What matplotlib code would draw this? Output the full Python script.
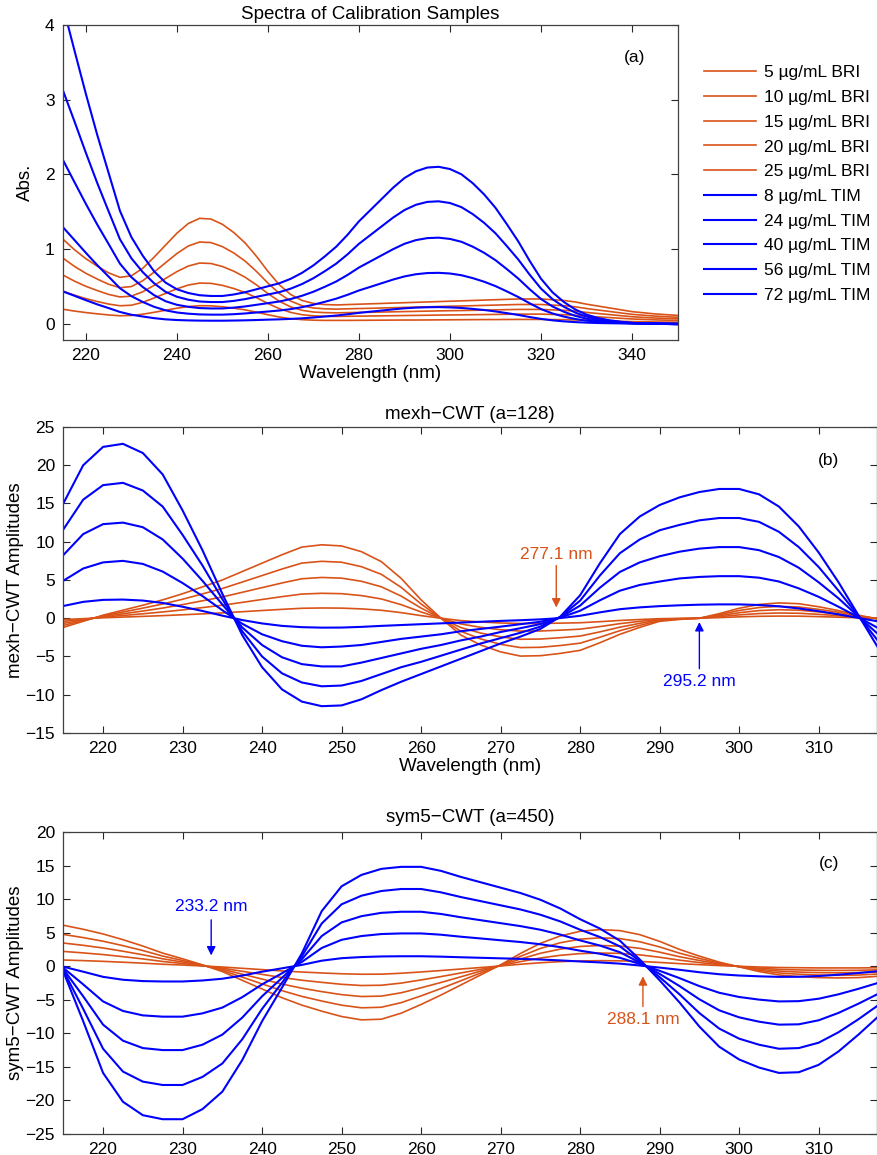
import matplotlib
matplotlib.use("Agg")
import matplotlib.pyplot as plt
import numpy as np

plt.rcParams["font.family"] = ["Liberation Sans", "DejaVu Sans"]
plt.rcParams["font.size"] = 12.5

RED = "#D95319"
BLUE = "#0000FF"

bri_labels = ["5 µg/mL BRI", "10 µg/mL BRI", "15 µg/mL BRI", "20 µg/mL BRI", "25 µg/mL BRI"]
tim_labels = ["8 µg/mL TIM", "24 µg/mL TIM", "40 µg/mL TIM", "56 µg/mL TIM", "72 µg/mL TIM"]

# panel (a): absorbance spectra, read every 2.5 nm from 215 to 350 nm
wl_a = np.arange(215, 350.1, 2.5)

bri_a = [
    [0.192, 0.168, 0.148, 0.131, 0.116, 0.105, 0.109, 0.126, 0.151, 0.179, 0.206, 0.228, 0.24, 0.238,
     0.226, 0.207, 0.184, 0.153, 0.119, 0.088, 0.066, 0.053, 0.046, 0.043, 0.043, 0.043, 0.044, 0.045,
     0.046, 0.047, 0.048, 0.048, 0.049, 0.05, 0.051, 0.052, 0.053, 0.054, 0.054, 0.055, 0.056, 0.056,
     0.056, 0.054, 0.053, 0.049, 0.044, 0.04, 0.036, 0.031, 0.027, 0.025, 0.022, 0.02, 0.019],
    [0.435, 0.381, 0.335, 0.296, 0.262, 0.239, 0.246, 0.285, 0.343, 0.404, 0.466, 0.516, 0.543, 0.539,
     0.512, 0.47, 0.416, 0.347, 0.27, 0.2, 0.15, 0.119, 0.104, 0.098, 0.096, 0.098, 0.1, 0.102,
     0.104, 0.106, 0.108, 0.11, 0.112, 0.114, 0.116, 0.117, 0.119, 0.121, 0.123, 0.125, 0.127, 0.127,
     0.127, 0.123, 0.119, 0.112, 0.1, 0.09, 0.081, 0.071, 0.062, 0.056, 0.05, 0.046, 0.042],
    [0.65, 0.569, 0.5, 0.443, 0.391, 0.357, 0.368, 0.426, 0.512, 0.604, 0.696, 0.771, 0.811, 0.805,
     0.765, 0.702, 0.621, 0.518, 0.403, 0.299, 0.224, 0.178, 0.155, 0.147, 0.144, 0.147, 0.15, 0.152,
     0.155, 0.158, 0.161, 0.164, 0.167, 0.17, 0.173, 0.175, 0.178, 0.181, 0.184, 0.187, 0.19, 0.19,
     0.19, 0.184, 0.178, 0.167, 0.15, 0.135, 0.121, 0.106, 0.092, 0.083, 0.075, 0.069, 0.063],
    [0.876, 0.767, 0.674, 0.597, 0.527, 0.481, 0.496, 0.574, 0.69, 0.814, 0.938, 1.039, 1.093, 1.085,
     1.031, 0.946, 0.837, 0.698, 0.543, 0.403, 0.302, 0.24, 0.209, 0.198, 0.194, 0.198, 0.202, 0.205,
     0.209, 0.213, 0.217, 0.221, 0.225, 0.229, 0.233, 0.236, 0.24, 0.244, 0.248, 0.252, 0.256, 0.256,
     0.256, 0.248, 0.24, 0.225, 0.202, 0.182, 0.163, 0.143, 0.124, 0.112, 0.101, 0.093, 0.085],
    [1.13, 0.99, 0.87, 0.77, 0.68, 0.62, 0.64, 0.74, 0.89, 1.05, 1.21, 1.34, 1.41, 1.40,
     1.33, 1.22, 1.08, 0.90, 0.70, 0.52, 0.39, 0.31, 0.27, 0.255, 0.25, 0.255, 0.26, 0.265,
     0.27, 0.275, 0.28, 0.285, 0.29, 0.295, 0.30, 0.305, 0.31, 0.315, 0.32, 0.325, 0.33, 0.33,
     0.33, 0.32, 0.31, 0.29, 0.26, 0.235, 0.21, 0.185, 0.16, 0.145, 0.13, 0.12, 0.11],
]

tim_a = [
    [0.43, 0.373, 0.314, 0.258, 0.208, 0.156, 0.119, 0.095, 0.073, 0.057, 0.048, 0.043, 0.04, 0.039,
     0.039, 0.041, 0.044, 0.048, 0.053, 0.057, 0.063, 0.071, 0.082, 0.095, 0.108, 0.125, 0.144, 0.16,
     0.175, 0.191, 0.205, 0.214, 0.219, 0.221, 0.217, 0.21, 0.197, 0.182, 0.163, 0.14, 0.116, 0.088,
     0.063, 0.044, 0.03, 0.02, 0.013, 0.008, 0.005, 0.003, 0.001, 0.0, 0.0, 0.0, 0.0],
    [1.29, 1.12, 0.949, 0.784, 0.63, 0.474, 0.368, 0.29, 0.225, 0.178, 0.149, 0.133, 0.123, 0.12,
     0.12, 0.126, 0.136, 0.149, 0.162, 0.175, 0.194, 0.22, 0.253, 0.292, 0.334, 0.386, 0.444, 0.492,
     0.541, 0.59, 0.632, 0.661, 0.677, 0.68, 0.671, 0.648, 0.609, 0.561, 0.502, 0.431, 0.356, 0.272,
     0.194, 0.136, 0.094, 0.062, 0.039, 0.024, 0.015, 0.008, 0.003, 0.0, 0.0, 0.0, -0.003],
    [2.19, 1.896, 1.605, 1.328, 1.067, 0.803, 0.622, 0.491, 0.381, 0.30, 0.252, 0.225, 0.208, 0.203,
     0.203, 0.214, 0.23, 0.252, 0.274, 0.296, 0.329, 0.373, 0.427, 0.493, 0.564, 0.652, 0.751, 0.833,
     0.915, 0.997, 1.069, 1.118, 1.145, 1.151, 1.134, 1.096, 1.03, 0.948, 0.849, 0.729, 0.603, 0.46,
     0.329, 0.23, 0.159, 0.104, 0.066, 0.041, 0.025, 0.014, 0.005, 0.0, 0.0, -0.003, -0.005],
    [3.12, 2.71, 2.29, 1.885, 1.505, 1.13, 0.876, 0.69, 0.54, 0.426, 0.36, 0.32, 0.296, 0.289,
     0.289, 0.304, 0.328, 0.359, 0.39, 0.421, 0.468, 0.53, 0.608, 0.702, 0.803, 0.928, 1.069, 1.186,
     1.303, 1.42, 1.521, 1.591, 1.63, 1.638, 1.615, 1.56, 1.466, 1.349, 1.209, 1.037, 0.858, 0.655,
     0.468, 0.328, 0.226, 0.148, 0.094, 0.059, 0.035, 0.02, 0.008, 0.0, 0.0, -0.004, -0.008],
    [4.25, 3.66, 3.08, 2.53, 2.02, 1.51, 1.16, 0.91, 0.70, 0.55, 0.46, 0.41, 0.38, 0.37,
     0.37, 0.39, 0.42, 0.46, 0.50, 0.54, 0.60, 0.68, 0.78, 0.90, 1.03, 1.19, 1.37, 1.52,
     1.67, 1.82, 1.95, 2.04, 2.09, 2.10, 2.07, 2.00, 1.88, 1.73, 1.55, 1.33, 1.10, 0.84,
     0.60, 0.42, 0.29, 0.19, 0.12, 0.075, 0.045, 0.025, 0.01, 0.0, 0.0, -0.005, -0.01],
]

# panels (b) and (c): CWT amplitudes, read every 2.5 nm from 215 to 317.5 nm
wl_cwt = np.arange(215, 317.6, 2.5)

bri_b = [
    [-0.17, -0.06, 0.06, 0.15, 0.24, 0.34, 0.45, 0.57, 0.7, 0.85, 1.01, 1.16, 1.3, 1.34,
     1.32, 1.22, 1.04, 0.73, 0.34, 0.0, -0.31, -0.49, -0.62, -0.69, -0.69, -0.64, -0.59, -0.45,
     -0.29, -0.17, -0.06, -0.02, 0.0, 0.08, 0.18, 0.25, 0.28, 0.27, 0.21, 0.14, 0.06, -0.01],
    [-0.41, -0.14, 0.14, 0.36, 0.58, 0.82, 1.09, 1.39, 1.7, 2.07, 2.45, 2.82, 3.16, 3.26,
     3.21, 2.96, 2.52, 1.77, 0.82, 0.0, -0.75, -1.19, -1.5, -1.68, -1.67, -1.56, -1.43, -1.09,
     -0.71, -0.41, -0.14, -0.05, 0.0, 0.2, 0.44, 0.61, 0.68, 0.65, 0.51, 0.34, 0.14, -0.03],
    [-0.67, -0.22, 0.22, 0.58, 0.94, 1.33, 1.78, 2.28, 2.78, 3.39, 4.0, 4.61, 5.16, 5.33,
     5.24, 4.83, 4.11, 2.89, 1.33, 0.0, -1.22, -1.94, -2.44, -2.75, -2.72, -2.55, -2.33, -1.78,
     -1.17, -0.67, -0.22, -0.08, 0.0, 0.33, 0.72, 1.0, 1.11, 1.05, 0.83, 0.56, 0.22, -0.06],
    [-0.93, -0.31, 0.31, 0.81, 1.32, 1.86, 2.48, 3.18, 3.88, 4.73, 5.58, 6.43, 7.21, 7.44,
     7.32, 6.74, 5.74, 4.03, 1.86, 0.0, -1.71, -2.71, -3.41, -3.84, -3.8, -3.57, -3.26, -2.48,
     -1.63, -0.93, -0.31, -0.12, 0.0, 0.47, 1.01, 1.4, 1.55, 1.47, 1.16, 0.78, 0.31, -0.08],
    [-1.2, -0.4, 0.4, 1.05, 1.7, 2.4, 3.2, 4.1, 5.0, 6.1, 7.2, 8.3, 9.3, 9.6,
     9.45, 8.7, 7.4, 5.2, 2.4, 0.0, -2.2, -3.5, -4.4, -4.95, -4.9, -4.6, -4.2, -3.2,
     -2.1, -1.2, -0.4, -0.15, 0.0, 0.6, 1.3, 1.8, 2.0, 1.9, 1.5, 1.0, 0.4, -0.1],
]

tim_b = [
    [1.6, 2.14, 2.4, 2.44, 2.31, 2.0, 1.5, 0.95, 0.34, -0.24, -0.68, -1.0, -1.17, -1.23,
     -1.22, -1.13, -1.0, -0.89, -0.78, -0.67, -0.57, -0.46, -0.35, -0.26, -0.15, 0.02, 0.32, 0.77,
     1.18, 1.42, 1.58, 1.69, 1.77, 1.81, 1.81, 1.73, 1.56, 1.28, 0.92, 0.5, 0.04, -0.42],
    [4.9, 6.5, 7.3, 7.5, 7.1, 6.1, 4.6, 2.9, 1.05, -0.72, -2.1, -3.0, -3.6, -3.8,
     -3.7, -3.5, -3.1, -2.7, -2.4, -2.1, -1.7, -1.4, -1.1, -0.78, -0.46, 0.07, 0.98, 2.35,
     3.6, 4.35, 4.8, 5.2, 5.4, 5.5, 5.5, 5.3, 4.8, 3.9, 2.8, 1.5, 0.13, -1.3],
    [8.25, 11.0, 12.3, 12.5, 11.9, 10.3, 7.8, 4.9, 1.8, -1.2, -3.5, -5.1, -6.0, -6.3,
     -6.3, -5.8, -5.2, -4.6, -4.0, -3.5, -2.9, -2.4, -1.8, -1.3, -0.77, 0.11, 1.65, 4.0,
     6.05, 7.3, 8.1, 8.7, 9.1, 9.3, 9.3, 8.9, 8.0, 6.6, 4.7, 2.6, 0.22, -2.1],
    [11.6, 15.5, 17.4, 17.7, 16.7, 14.6, 10.9, 6.9, 2.5, -1.7, -5.0, -7.2, -8.4, -8.9,
     -8.8, -8.2, -7.3, -6.4, -5.7, -4.9, -4.1, -3.3, -2.6, -1.9, -1.1, 0.16, 2.3, 5.6,
     8.5, 10.3, 11.5, 12.2, 12.8, 13.1, 13.1, 12.6, 11.3, 9.3, 6.7, 3.6, 0.3, -3.0],
    [15.0, 20.0, 22.4, 22.8, 21.6, 18.8, 14.1, 8.9, 3.2, -2.2, -6.4, -9.3, -10.9, -11.5,
     -11.4, -10.6, -9.4, -8.3, -7.3, -6.3, -5.3, -4.3, -3.3, -2.4, -1.4, 0.2, 3.0, 7.2,
     11.0, 13.3, 14.8, 15.8, 16.5, 16.9, 16.9, 16.2, 14.6, 12.0, 8.6, 4.7, 0.4, -3.9],
]

bri_c = [
    [0.92, 0.83, 0.72, 0.59, 0.45, 0.29, 0.17, 0.03, -0.12, -0.32, -0.51, -0.71, -0.87, -1.01,
     -1.13, -1.2, -1.19, -1.05, -0.86, -0.65, -0.42, -0.2, 0.03, 0.29, 0.51, 0.68, 0.78, 0.82,
     0.8, 0.71, 0.56, 0.38, 0.23, 0.09, -0.02, -0.12, -0.2, -0.23, -0.26, -0.26, -0.26, -0.23],
    [2.2, 1.98, 1.73, 1.42, 1.08, 0.7, 0.4, 0.07, -0.29, -0.76, -1.22, -1.69, -2.09, -2.41,
     -2.7, -2.88, -2.84, -2.52, -2.05, -1.55, -1.01, -0.47, 0.07, 0.68, 1.22, 1.62, 1.87, 1.96,
     1.91, 1.69, 1.33, 0.9, 0.54, 0.22, -0.04, -0.29, -0.47, -0.56, -0.61, -0.63, -0.61, -0.54],
    [3.45, 3.11, 2.71, 2.23, 1.7, 1.1, 0.62, 0.11, -0.45, -1.19, -1.92, -2.66, -3.28, -3.79,
     -4.24, -4.52, -4.46, -3.96, -3.22, -2.43, -1.58, -0.73, 0.11, 1.07, 1.92, 2.54, 2.94, 3.08,
     2.99, 2.66, 2.09, 1.41, 0.85, 0.34, -0.06, -0.45, -0.73, -0.88, -0.96, -0.99, -0.96, -0.85],
    [4.73, 4.26, 3.72, 3.06, 2.33, 1.51, 0.85, 0.16, -0.62, -1.63, -2.64, -3.64, -4.5, -5.19,
     -5.81, -6.2, -6.12, -5.43, -4.42, -3.33, -2.17, -1.01, 0.16, 1.47, 2.64, 3.49, 4.03, 4.22,
     4.11, 3.64, 2.87, 1.94, 1.16, 0.47, -0.08, -0.62, -1.01, -1.2, -1.32, -1.36, -1.32, -1.16],
    [6.1, 5.5, 4.8, 3.95, 3.0, 1.95, 1.1, 0.2, -0.8, -2.1, -3.4, -4.7, -5.8, -6.7,
     -7.5, -8.0, -7.9, -7.0, -5.7, -4.3, -2.8, -1.3, 0.2, 1.9, 3.4, 4.5, 5.2, 5.45,
     5.3, 4.7, 3.7, 2.5, 1.5, 0.6, -0.1, -0.8, -1.3, -1.55, -1.7, -1.75, -1.7, -1.5],
]

tim_c = [
    [-0.08, -0.82, -1.59, -2.02, -2.22, -2.28, -2.28, -2.13, -1.87, -1.4, -0.82, -0.32, 0.19, 0.82,
     1.19, 1.36, 1.45, 1.48, 1.48, 1.42, 1.33, 1.25, 1.17, 1.09, 0.99, 0.86, 0.7, 0.56,
     0.38, 0.1, -0.21, -0.54, -0.9, -1.2, -1.39, -1.51, -1.59, -1.58, -1.47, -1.27, -1.02, -0.75],
    [-0.26, -2.71, -5.25, -6.67, -7.33, -7.52, -7.52, -7.03, -6.17, -4.62, -2.71, -1.06, 0.63, 2.71,
     3.93, 4.49, 4.79, 4.88, 4.88, 4.69, 4.39, 4.13, 3.86, 3.6, 3.27, 2.84, 2.31, 1.85,
     1.25, 0.33, -0.69, -1.78, -2.97, -3.96, -4.59, -4.98, -5.25, -5.21, -4.85, -4.19, -3.37, -2.48],
    [-0.44, -4.49, -8.71, -11.1, -12.2, -12.5, -12.5, -11.7, -10.2, -7.67, -4.49, -1.75, 1.04, 4.49,
     6.52, 7.45, 7.95, 8.11, 8.11, 7.78, 7.29, 6.85, 6.41, 5.97, 5.43, 4.71, 3.84, 3.07,
     2.08, 0.55, -1.15, -2.96, -4.93, -6.58, -7.62, -8.27, -8.71, -8.66, -8.06, -6.96, -5.59, -4.11],
    [-0.62, -6.36, -12.3, -15.7, -17.2, -17.7, -17.7, -16.5, -14.5, -10.9, -6.36, -2.48, 1.47, 6.36,
     9.22, 10.5, 11.2, 11.5, 11.5, 11.0, 10.3, 9.69, 9.07, 8.45, 7.67, 6.67, 5.43, 4.34,
     2.95, 0.78, -1.63, -4.19, -6.98, -9.3, -10.8, -11.7, -12.3, -12.2, -11.4, -9.84, -7.91, -5.81],
    [-0.8, -8.2, -15.9, -20.2, -22.2, -22.8, -22.8, -21.3, -18.7, -14.0, -8.2, -3.2, 1.9, 8.2,
     11.9, 13.6, 14.5, 14.8, 14.8, 14.2, 13.3, 12.5, 11.7, 10.9, 9.9, 8.6, 7.0, 5.6,
     3.8, 1.0, -2.1, -5.4, -9.0, -12.0, -13.9, -15.1, -15.9, -15.8, -14.7, -12.7, -10.2, -7.5],
]


def style_axis(ax):
    ax.tick_params(direction="in", top=True, right=True, length=5, width=0.8,
                   colors="#262626", labelcolor="black", pad=6)
    for spine in ax.spines.values():
        spine.set_color("#404040")
        spine.set_linewidth(0.9)


def draw_curves(ax, x, bri, tim, labels=True):
    for i, ys in enumerate(bri):
        ax.plot(x, ys, color=RED, lw=1.2, label=bri_labels[i] if labels else None)
    for i, ys in enumerate(tim):
        ax.plot(x, ys, color=BLUE, lw=1.5, label=tim_labels[i] if labels else None)


def mark(ax, text, x, y_text, y_tail, y_tip, color):
    ax.annotate("", xy=(x, y_tip), xytext=(x, y_tail),
                arrowprops=dict(arrowstyle="-|>", color=color, lw=1.0,
                                mutation_scale=13, shrinkA=0, shrinkB=0))
    ax.text(x, y_text, text, color=color, ha="center", va="center", fontsize=12.5)


fig = plt.figure(figsize=(8.78, 11.55), dpi=100)
label_size = 13.5

ax_a = fig.add_axes([0.0718, 0.7056, 0.70, 0.2728])
draw_curves(ax_a, wl_a, bri_a, tim_a)
ax_a.set_xlim(215, 350)
ax_a.set_ylim(-0.22, 4)
ax_a.set_xticks(range(220, 341, 20))
ax_a.set_yticks(range(0, 5))
ax_a.set_xlabel("Wavelength (nm)", fontsize=label_size, labelpad=1)
ax_a.set_ylabel("Abs.", fontsize=label_size, labelpad=8)
ax_a.set_title("Spectra of Calibration Samples", fontsize=label_size, pad=4)
ax_a.text(0.93, 0.898, "(a)", transform=ax_a.transAxes, ha="center", va="center")
style_axis(ax_a)

handles, labels = ax_a.get_legend_handles_labels()
fig.legend(handles, labels, loc="upper left", bbox_to_anchor=(0.802, 0.9435),
           frameon=False, borderpad=0, borderaxespad=0, handlelength=3.0,
           handletextpad=0.45, labelspacing=0.55, fontsize=12.5)

ax_b = fig.add_axes([0.0721, 0.3654, 0.9264, 0.2649])
draw_curves(ax_b, wl_cwt, bri_b, tim_b, labels=False)
ax_b.set_xlim(215, 317.3)
ax_b.set_ylim(-15, 25)
ax_b.set_xticks(range(220, 311, 10))
ax_b.set_yticks(range(-15, 26, 5))
ax_b.set_xlabel("Wavelength (nm)", fontsize=label_size, labelpad=1)
ax_b.set_ylabel("mexh\u2212CWT Amplitudes", fontsize=label_size, labelpad=1)
ax_b.set_title("mexh\u2212CWT (a=128)", fontsize=label_size, pad=6)
ax_b.text(311.3, 20.6, "(b)", ha="center", va="center")
mark(ax_b, "277.1 nm", 277.0, 8.3, 6.9, 1.4, RED)
mark(ax_b, "295.2 nm", 295.0, -8.3, -6.6, -0.5, BLUE)
style_axis(ax_b)

ax_c = fig.add_axes([0.0721, 0.0182, 0.9264, 0.2615])
draw_curves(ax_c, wl_cwt, bri_c, tim_c, labels=False)
ax_c.set_xlim(215, 317.3)
ax_c.set_ylim(-25, 20)
ax_c.set_xticks(range(220, 311, 10))
ax_c.set_yticks(range(-25, 21, 5))
ax_c.set_ylabel("sym5\u2212CWT Amplitudes", fontsize=label_size, labelpad=1)
ax_c.set_title("sym5\u2212CWT (a=450)", fontsize=label_size, pad=7)
ax_c.text(311.3, 15.3, "(c)", ha="center", va="center")
mark(ax_c, "233.2 nm", 233.6, 8.85, 6.9, 1.6, BLUE)
mark(ax_c, "288.1 nm", 287.9, -8.0, -6.0, -1.5, RED)
style_axis(ax_c)

fig.savefig("out.png", dpi=100)
plt.close(fig)
